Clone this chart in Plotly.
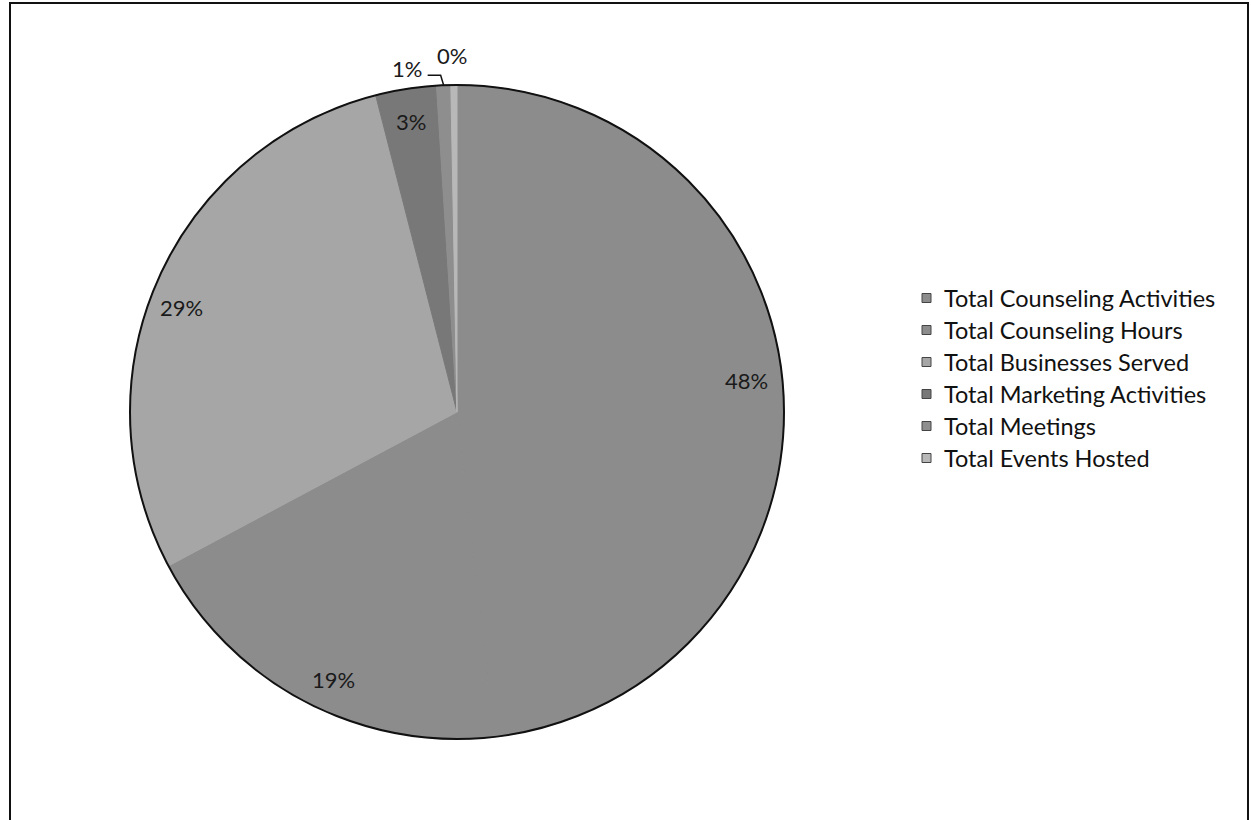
import math
import plotly.graph_objects as go

W, H = 1251, 820

labels = ["Total Counseling Activities", "Total Counseling Hours", "Total Businesses Served",
          "Total Marketing Activities", "Total Meetings", "Total Events Hosted"]
values = [48.2, 19.0, 28.8, 3.0, 0.7, 0.3]
colors = ["#8c8c8c", "#8c8c8c", "#a6a6a6", "#787878", "#8e8e8e", "#b8b8b8"]

FONT = "Lato"
CX, CY, R = 457, 412, 327  # pie centre / radius in px
LABEL_SHIFT = math.radians(-3)


def px(x):
    return x / W


def py(y):
    return 1 - y / H


fig = go.Figure()
fig.add_trace(go.Pie(
    labels=labels, values=values, sort=False, direction="clockwise", rotation=0,
    marker=dict(colors=colors, line=dict(color=colors, width=1)),
    textinfo="none", hoverinfo="label+percent", showlegend=False,
    domain=dict(x=[px(CX - R), px(CX + R)], y=[py(CY + R), py(CY - R)]),
))

annotations = []
shapes = []
# dark outer edge of the pie
shapes.append(dict(type="circle", xref="paper", yref="paper",
                   x0=px(CX - R), x1=px(CX + R), y0=py(CY + R), y1=py(CY - R),
                   line=dict(color="#111", width=2), fillcolor="rgba(0,0,0,0)"))

total = sum(values)
cum = 0.0
lab_font = dict(family=FONT, size=22, color="#1a1a1a")
for i, v in enumerate(values):
    frac = v / total
    mid = (cum + frac / 2) * 2 * math.pi
    cum += frac
    pct = f"{round(frac * 100)}%"
    if frac > 0.02:
        r = 0.89 * R if frac > 0.4 else 0.9 * R
        a = mid + (LABEL_SHIFT if frac > 0.1 else 0)
        annotations.append(dict(x=px(CX + r * math.sin(a)), y=py(CY - r * math.cos(a)),
                                xref="paper", yref="paper", xanchor="center", yanchor="middle",
                                text=pct, showarrow=False, font=lab_font))
    else:
        ex, ey = CX + R * math.sin(mid), CY - R * math.cos(mid)
        if frac > 0.005:
            shapes.append(dict(type="path", xref="paper", yref="paper",
                               path=f"M {px(ex - 16)} {py(ey - 10)} L {px(ex - 3)} {py(ey - 10)} L {px(ex)} {py(ey)}",
                               line=dict(color="#111", width=1.5)))
            annotations.append(dict(x=px(ex - 20), y=py(ey - 17), xref="paper", yref="paper",
                                    xanchor="right", yanchor="middle",
                                    text=pct, showarrow=False, font=lab_font))
        else:
            annotations.append(dict(x=px(ex - 2), y=py(ey - 30), xref="paper", yref="paper",
                                    xanchor="center", yanchor="middle",
                                    text=pct, showarrow=False, font=lab_font))

# manual legend
LX, LY, GAP, SW = 922, 298, 32, 9
for i, (lab, col) in enumerate(zip(labels, colors)):
    yc = LY + i * GAP
    shapes.append(dict(type="rect", xref="paper", yref="paper",
                       x0=px(LX), x1=px(LX + SW), y0=py(yc + SW / 2), y1=py(yc - SW / 2),
                       fillcolor=col, line=dict(color="#444", width=1)))
    annotations.append(dict(x=px(LX + SW + 11), y=py(yc), xref="paper", yref="paper",
                            text=lab, showarrow=False, xanchor="left", yanchor="middle",
                            font=dict(family=FONT, size=23.5, color="#111")))

# chart frame
shapes.append(dict(type="rect", xref="paper", yref="paper",
                   x0=px(10), x1=px(1248), y0=py(830), y1=py(3),
                   line=dict(color="#111", width=2), fillcolor="rgba(0,0,0,0)"))

fig.update_layout(
    width=W, height=H,
    margin=dict(l=0, r=0, t=0, b=0),
    paper_bgcolor="white", plot_bgcolor="white",
    annotations=annotations, shapes=shapes,
    showlegend=False,
)

fig.write_html("out.html")
